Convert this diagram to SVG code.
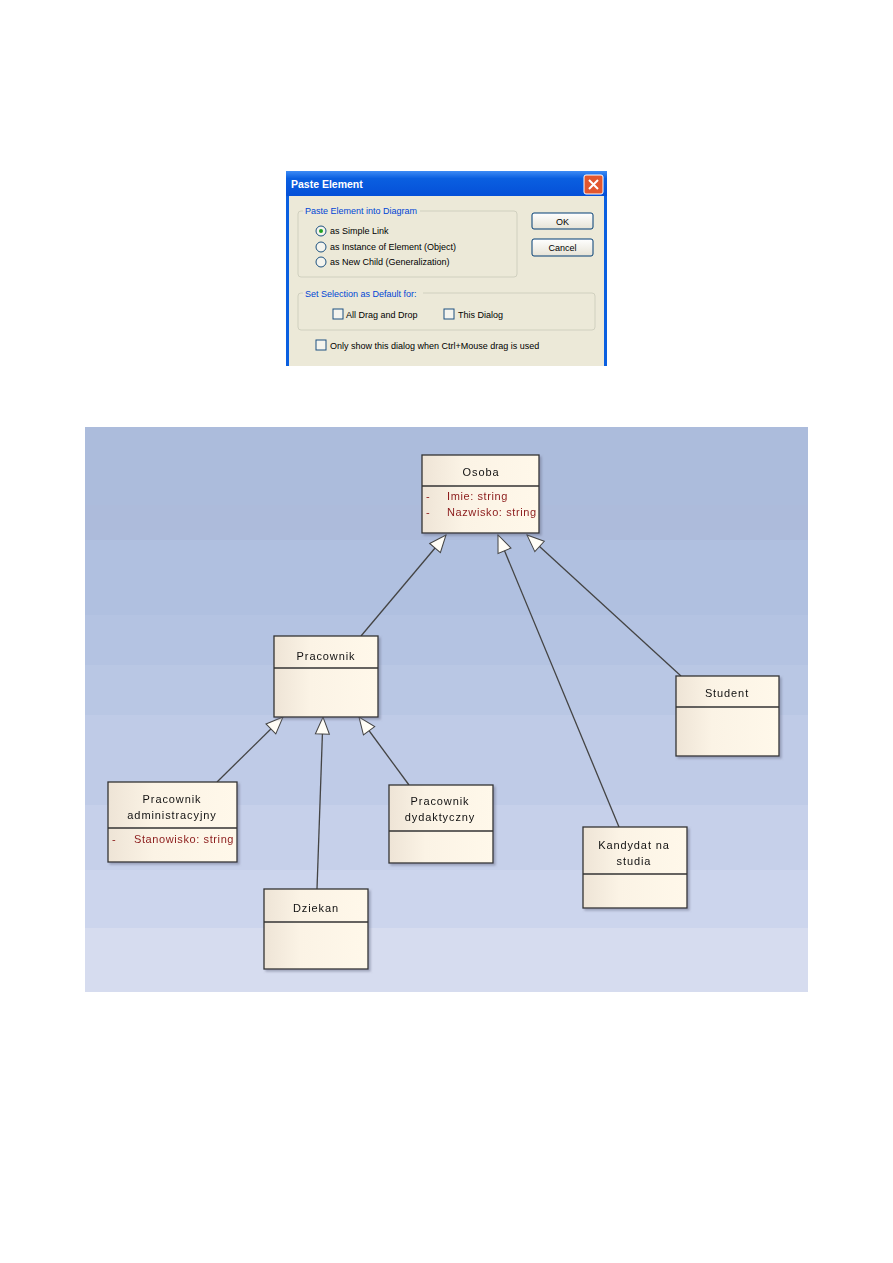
<svg xmlns="http://www.w3.org/2000/svg" width="893" height="1263" viewBox="0 0 893 1263">
<defs>
<linearGradient id="title" x1="0" y1="0" x2="0" y2="1">
<stop offset="0" stop-color="#3d8bf5"/><stop offset="0.3" stop-color="#0a5fe0"/><stop offset="1" stop-color="#0550d8"/>
</linearGradient>
<linearGradient id="btn" x1="0" y1="0" x2="0" y2="1">
<stop offset="0" stop-color="#ffffff"/><stop offset="1" stop-color="#e6e3d6"/>
</linearGradient>
<linearGradient id="node" x1="0" y1="0" x2="1" y2="0">
<stop offset="0" stop-color="#eee4d6"/><stop offset="0.35" stop-color="#fbf3e5"/><stop offset="1" stop-color="#fff8ea"/>
</linearGradient>
<marker id="gen" markerWidth="20" markerHeight="18" refX="18" refY="8" orient="auto" markerUnits="userSpaceOnUse">
<path d="M1,1 L18,8 L1,15 Z" fill="#fffdf6" stroke="#444" stroke-width="1"/>
</marker>
<filter id="sh" x="-10%" y="-10%" width="130%" height="130%">
<feDropShadow dx="2" dy="2" stdDeviation="1.2" flood-color="#6a7088" flood-opacity="0.5"/>
</filter>
</defs>
<style>
.dt{font-family:"Liberation Sans",Arial,sans-serif;font-size:9px;fill:#000}
.dl{font-family:"Liberation Sans",Arial,sans-serif;font-size:9px;fill:#0046d5}
.gb{fill:none;stroke:#d0d0bf;stroke-width:1}
.rd{fill:#f4f4ee;stroke:#1c5180;stroke-width:1}
.cb{fill:#f4f4ee;stroke:#1c5180;stroke-width:1}
.box{fill:url(#node);stroke:#333;stroke-width:1.3}
.nm{font-family:"Liberation Sans",Arial,sans-serif;font-size:11px;fill:#111;letter-spacing:0.9px;text-anchor:middle}
.at{font-family:"Liberation Sans",Arial,sans-serif;font-size:11px;fill:#8b1a1a;letter-spacing:0.6px}
.ln{stroke:#444;stroke-width:1.3;fill:none;marker-end:url(#gen)}
</style>
<rect width="893" height="1263" fill="#ffffff"/>

<g id="dialog">
<rect x="286" y="171" width="321" height="195" fill="#0a5fe0"/>
<rect x="286" y="171" width="321" height="25" fill="url(#title)"/>
<rect x="289" y="196" width="315" height="170" fill="#ece9d8"/>
<text x="291" y="188" font-family="Liberation Sans,Arial,sans-serif" font-size="10.5" font-weight="bold" fill="#ffffff">Paste Element</text>
<rect x="584" y="175" width="19" height="19" rx="2" fill="#e2572f" stroke="#ffffff" stroke-width="1"/>
<path d="M589,180 L598,189 M598,180 L589,189" stroke="#ffffff" stroke-width="2"/>
<rect x="298" y="211" width="219" height="66" rx="3" class="gb"/>
<rect x="303" y="206" width="117" height="10" fill="#ece9d8"/>
<text x="305" y="214" class="dl">Paste Element into Diagram</text>
<circle cx="321" cy="231" r="5" class="rd"/><circle cx="321" cy="231" r="2" fill="#21a121"/>
<text x="330" y="234" class="dt">as Simple Link</text>
<circle cx="321" cy="247" r="5" class="rd"/>
<text x="330" y="250" class="dt">as Instance of Element (Object)</text>
<circle cx="321" cy="262" r="5" class="rd"/>
<text x="330" y="265" class="dt">as New Child (Generalization)</text>
<rect x="532" y="213" width="61" height="16" rx="2" fill="url(#btn)" stroke="#003c74" stroke-width="1"/>
<text x="562.5" y="224.5" class="dt" text-anchor="middle">OK</text>
<rect x="532" y="239" width="61" height="17" rx="2" fill="url(#btn)" stroke="#003c74" stroke-width="1"/>
<text x="562.5" y="251" class="dt" text-anchor="middle">Cancel</text>
<rect x="298" y="293" width="297" height="37" rx="3" class="gb"/>
<rect x="303" y="288" width="120" height="10" fill="#ece9d8"/>
<text x="305" y="297" class="dl">Set Selection as Default for:</text>
<rect x="333" y="309" width="10" height="10" class="cb"/>
<text x="346" y="318" class="dt">All Drag and Drop</text>
<rect x="444" y="309" width="10" height="10" class="cb"/>
<text x="458" y="318" class="dt">This Dialog</text>
<rect x="316" y="340" width="10" height="10" class="cb"/>
<text x="330" y="349" class="dt">Only show this dialog when Ctrl+Mouse drag is used</text>
</g>

<g id="background">
<rect x="85" y="427" width="723" height="78" fill="#acbcdc"/>
<rect x="85" y="505" width="723" height="35" fill="#adbbdb"/>
<rect x="85" y="540" width="723" height="75" fill="#b0c0e0"/>
<rect x="85" y="615" width="723" height="50" fill="#b4c3e2"/>
<rect x="85" y="665" width="723" height="50" fill="#b9c7e4"/>
<rect x="85" y="715" width="723" height="90" fill="#bfcbe7"/>
<rect x="85" y="805" width="723" height="65" fill="#c6d0ea"/>
<rect x="85" y="870" width="723" height="58" fill="#ccd5ed"/>
<rect x="85" y="928" width="723" height="64" fill="#d6dcef"/>
</g>

<g id="connectors">
<line x1="361" y1="636" x2="446" y2="535" class="ln"/>
<line x1="619" y1="827" x2="498" y2="535" class="ln"/>
<line x1="681" y1="676" x2="527" y2="535" class="ln"/>
<line x1="217" y1="782" x2="283" y2="717" class="ln"/>
<line x1="317" y1="889" x2="323" y2="717" class="ln"/>
<line x1="409" y1="785" x2="359" y2="717" class="ln"/>
</g>

<g id="osoba" filter="url(#sh)">
<rect x="422" y="455" width="117" height="78" class="box"/>
<line x1="422" y1="486" x2="539" y2="486" stroke="#333" stroke-width="1.3"/>
<text x="481" y="476" class="nm">Osoba</text>
<text x="426" y="500" class="at">-</text><text x="447" y="500" class="at">Imie: string</text>
<text x="426" y="516" class="at">-</text><text x="447" y="516" class="at">Nazwisko: string</text>
</g>

<g id="pracownik" filter="url(#sh)">
<rect x="274" y="636" width="104" height="81" class="box"/>
<line x1="274" y1="668" x2="378" y2="668" stroke="#333" stroke-width="1.3"/>
<text x="326" y="660" class="nm">Pracownik</text>
</g>

<g id="student" filter="url(#sh)">
<rect x="676" y="676" width="103" height="80" class="box"/>
<line x1="676" y1="707" x2="779" y2="707" stroke="#333" stroke-width="1.3"/>
<text x="727" y="697" class="nm">Student</text>
</g>

<g id="pracownik-administracyjny" filter="url(#sh)">
<rect x="108" y="782" width="129" height="80" class="box"/>
<line x1="108" y1="828" x2="237" y2="828" stroke="#333" stroke-width="1.3"/>
<text x="172" y="803" class="nm">Pracownik</text>
<text x="172" y="819" class="nm">administracyjny</text>
<text x="112" y="843" class="at">-</text><text x="134" y="843" class="at">Stanowisko: string</text>
</g>

<g id="pracownik-dydaktyczny" filter="url(#sh)">
<rect x="389" y="785" width="104" height="78" class="box"/>
<line x1="389" y1="831" x2="493" y2="831" stroke="#333" stroke-width="1.3"/>
<text x="440" y="805" class="nm">Pracownik</text>
<text x="440" y="821" class="nm">dydaktyczny</text>
</g>

<g id="kandydat" filter="url(#sh)">
<rect x="583" y="827" width="104" height="81" class="box"/>
<line x1="583" y1="874" x2="687" y2="874" stroke="#333" stroke-width="1.3"/>
<text x="634" y="849" class="nm">Kandydat na</text>
<text x="634" y="865" class="nm">studia</text>
</g>

<g id="dziekan" filter="url(#sh)">
<rect x="264" y="889" width="104" height="80" class="box"/>
<line x1="264" y1="922" x2="368" y2="922" stroke="#333" stroke-width="1.3"/>
<text x="316" y="912" class="nm">Dziekan</text>
</g>
</svg>
